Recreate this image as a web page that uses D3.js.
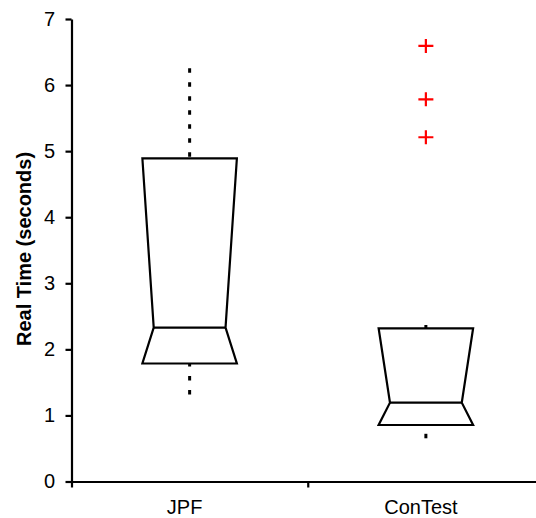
<!DOCTYPE html>
<html>
<meta charset="utf-8">
<title>Real Time boxplot</title>
<style>
	body { margin: 0; background-color: #ffffff; }
	svg { display: block; }
	.axis text { font: 20px "Liberation Sans", Arial, sans-serif; fill: #000; }
	.axis path, .axis line { stroke: #000; stroke-width: 2.2; }
	.y.label { font: bold 20px "Liberation Sans", Arial, sans-serif; fill: #000; }
	.cat.label { font: 20px "Liberation Sans", Arial, sans-serif; fill: #000; }
</style>
<body>
<div id="chart"></div>
<script src="https://d3js.org/d3.v7.min.js"></script>
<script>

	// Data
	var categories = ["JPF", "ConTest"];
	var q1 = [1.786, 0.855];
	var medians = [2.328, 1.193];
	var q3 = [4.892, 2.319];
	var whiskerLow = [1.317, 0.654];
	var whiskerHigh = [6.254, 2.369];
	var outliers = [[], [6.592, 5.785, 5.21]];
	var yTicks = [0, 1, 2, 3, 4, 5, 6, 7];

	// Chart dimensions
	var W = 536, H = 518;
	var plotLeft = 71.5, plotTop = 19, plotBottom = 481.5, plotRight = 544;

	var svg = d3.select("#chart").append("svg")
		.attr("width", W)
		.attr("height", H);

	var y = d3.scaleLinear().domain([0, 7]).range([plotBottom, plotTop]);
	var x = d3.scaleBand().domain(categories).range([plotLeft, plotRight]);
	var xEdge = d3.scaleLinear().domain([0, categories.length]).range([plotLeft, plotRight]);

	var boxHalf = x.bandwidth() * 0.2,
		notchHalf = x.bandwidth() * 0.152;

	// Axes
	svg.append("g")
		.attr("class", "x axis")
		.attr("transform", "translate(0," + plotBottom + ")")
		.call(d3.axisBottom(xEdge).ticks(categories.length).tickFormat("").tickSize(6).tickSizeOuter(0));

	svg.append("g")
		.attr("class", "y axis")
		.attr("transform", "translate(" + plotLeft + ",0)")
		.call(d3.axisLeft(y).tickValues(yTicks).tickFormat(d3.format("d")).tickSize(6).tickSizeOuter(0).tickPadding(10.5));

	// Category labels
	svg.selectAll(".cat.label")
		.data(categories).enter().append("text")
		.attr("class", "cat label")
		.attr("text-anchor", "middle")
		.attr("x", function (d) { return x(d) + x.bandwidth() / 2 - 5; })
		.attr("y", 514)
		.text(function (d) { return d; });

	svg.append("text")
		.attr("class", "y label")
		.attr("text-anchor", "middle")
		.attr("transform", "translate(31,249) rotate(-90)")
		.text("Real Time (seconds)");

	// Boxes
	var boxes = svg.append("g").selectAll(".box")
		.data(categories).enter().append("g")
		.attr("class", "box");

	boxes.append("line")
		.attr("x1", function (d) { return x(d) + x.bandwidth() / 2; })
		.attr("x2", function (d) { return x(d) + x.bandwidth() / 2; })
		.attr("y1", function (d, i) { return y(whiskerHigh[i]); })
		.attr("y2", function (d, i) { return y(q3[i]); })
		.attr("stroke", "#000").attr("stroke-width", 3)
		.attr("stroke-dasharray", "4.5,9.5");

	boxes.append("line")
		.attr("x1", function (d) { return x(d) + x.bandwidth() / 2; })
		.attr("x2", function (d) { return x(d) + x.bandwidth() / 2; })
		.attr("y1", function (d, i) { return y(whiskerLow[i]); })
		.attr("y2", function (d, i) { return y(q1[i]); })
		.attr("stroke", "#000").attr("stroke-width", 3)
		.attr("stroke-dasharray", "4.5,9.5");

	boxes.append("path")
		.attr("d", function (d, i) {
			var c = x(d) + x.bandwidth() / 2;
			return "M" + (c - boxHalf) + "," + y(q3[i]) +
				"L" + (c - notchHalf) + "," + y(medians[i]) +
				"L" + (c - boxHalf) + "," + y(q1[i]) +
				"L" + (c + boxHalf) + "," + y(q1[i]) +
				"L" + (c + notchHalf) + "," + y(medians[i]) +
				"L" + (c + boxHalf) + "," + y(q3[i]) + "Z";
		})
		.attr("fill", "none")
		.attr("stroke", "#000")
		.attr("stroke-width", 2.2);

	boxes.append("line")
		.attr("x1", function (d) { return x(d) + x.bandwidth() / 2 - notchHalf; })
		.attr("x2", function (d) { return x(d) + x.bandwidth() / 2 + notchHalf; })
		.attr("y1", function (d, i) { return y(medians[i]); })
		.attr("y2", function (d, i) { return y(medians[i]); })
		.attr("stroke", "#000").attr("stroke-width", 2.2);

	// Outliers as red plus signs
	var outlierPoints = [];
	categories.forEach(function (c, i) {
		outliers[i].forEach(function (v) { outlierPoints.push({ cat: c, value: v }); });
	});

	svg.append("g").selectAll(".outlier")
		.data(outlierPoints).enter().append("path")
		.attr("class", "outlier")
		.attr("transform", function (d) { return "translate(" + (x(d.cat) + x.bandwidth() / 2) + "," + y(d.value) + ")"; })
		.attr("d", "M-7.5,0H7.5M0,-7V7")
		.attr("stroke", "#ff0000")
		.attr("stroke-width", 2.2)
		.attr("fill", "none");

</script>
</body>
</html>
